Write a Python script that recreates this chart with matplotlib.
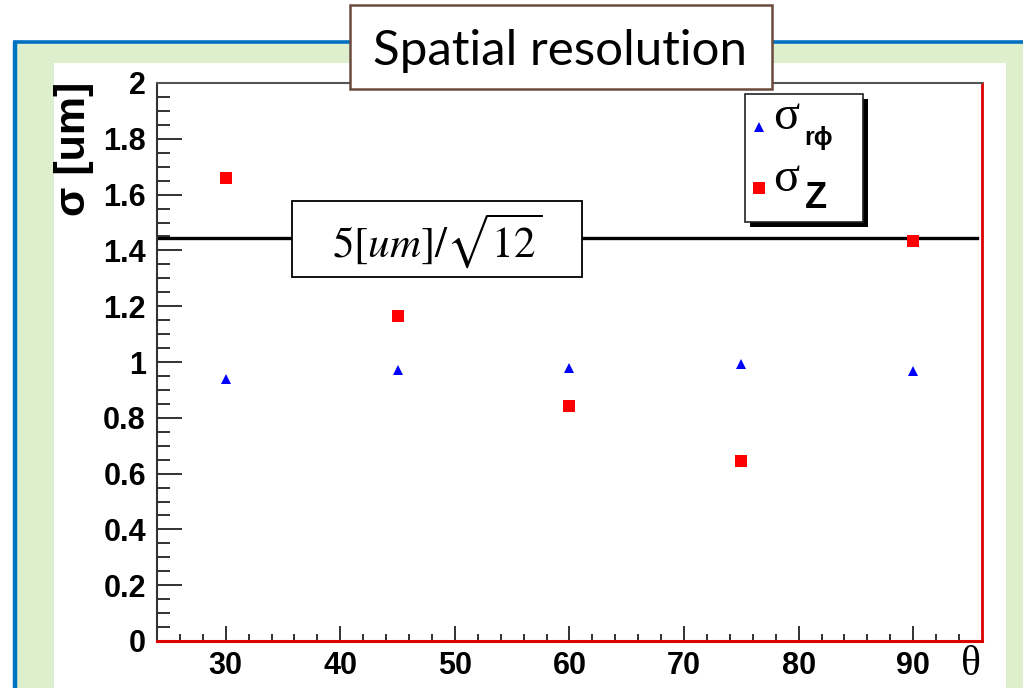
import numpy as np
import matplotlib
matplotlib.use("Agg")
import matplotlib.pyplot as plt
from matplotlib.patches import Rectangle
from matplotlib.lines import Line2D

# ---- data ----
theta = [30, 45, 60, 75, 90]
sigma_rphi = [0.94, 0.97, 0.978, 0.993, 0.968]
sigma_z = [1.658, 1.165, 0.842, 0.645, 1.434]
limit_value = 5 / np.sqrt(12)
x_ticks = [30, 40, 50, 60, 70, 80, 90]
y_ticks = [0, 0.2, 0.4, 0.6, 0.8, 1, 1.2, 1.4, 1.6, 1.8, 2]
y_tick_labels = ["0", "0.2", "0.4", "0.6", "0.8", "1", "1.2", "1.4", "1.6", "1.8", "2"]
title = "Spatial resolution"
y_label = "σ [um]"
x_label = "θ"

W, H = 1023, 688
fig = plt.figure(figsize=(W / 100, H / 100), dpi=100)
fig.patch.set_facecolor("white")


def fx(x):
    return x / W


def fy(y):
    return 1 - y / H


def rect_px(x0, y0, x1, y1, **kw):
    r = Rectangle((fx(x0), fy(y1)), fx(x1) - fx(x0), fy(y0) - fy(y1),
                  transform=fig.transFigure, **kw)
    fig.add_artist(r)
    return r


# slide background
rect_px(15, 42, 1030, 700, facecolor="#DDEFCD", edgecolor="none", zorder=-5)
fig.add_artist(Line2D([fx(14.5), fx(14.5)], [fy(42), fy(700)], transform=fig.transFigure,
                      color="#0070C0", lw=3.2, zorder=-4, solid_capstyle="butt"))
fig.add_artist(Line2D([fx(13), fx(1030)], [fy(42), fy(42)], transform=fig.transFigure,
                      color="#0070C0", lw=2.6, zorder=-4, solid_capstyle="butt"))
rect_px(54, 63, 1006, 700, facecolor="white", edgecolor="none", zorder=-3)

# axes
ax = fig.add_axes([fx(157), fy(641), fx(982) - fx(157), fy(83) - fy(641)])
ax.set_facecolor("none")
ax.set_xlim(24, 96)
ax.set_ylim(0, 2)

ax.axhline(limit_value, xmin=0, xmax=0.994, color="black", lw=2.4, zorder=2)
ax.plot(theta, sigma_rphi, linestyle="none", marker="^", color="#0000FF",
        markersize=7, markeredgewidth=0, zorder=4)
ax.plot(theta, sigma_z, linestyle="none", marker="s", color="#FF0000",
        markersize=8.5, markeredgewidth=0, zorder=4)

ax.set_xticks(x_ticks)
ax.set_xticks(np.arange(26, 96, 2), minor=True)
ax.set_yticks(y_ticks)
ax.set_yticklabels(y_tick_labels)
ax.set_yticks(np.arange(0, 2.001, 0.05), minor=True)
ax.tick_params(axis="both", which="both", direction="in", top=False, right=False,
               width=1.3, color="#222222")
ax.tick_params(axis="x", which="major", length=11, pad=7)
ax.tick_params(axis="x", which="minor", length=5)
ax.tick_params(axis="y", which="major", length=18, pad=8)
ax.tick_params(axis="y", which="minor", length=9)
for lab in ax.get_xticklabels() + ax.get_yticklabels():
    lab.set_fontfamily("Liberation Sans")
    lab.set_fontweight("bold")
    lab.set_fontsize(22)

ax.spines["left"].set_color("#333333")
ax.spines["left"].set_linewidth(1.5)
ax.spines["top"].set_color("#555555")
ax.spines["top"].set_linewidth(1.5)
ax.spines["right"].set_color("#DD0000")
ax.spines["right"].set_linewidth(2)
ax.spines["bottom"].set_color("#DD0000")
ax.spines["bottom"].set_linewidth(2.2)

# axis labels
fig.text(fx(74), fy(82), y_label, rotation=90, ha="center", va="top",
         fontsize=31, fontweight="bold", family="Liberation Sans")
fig.text(fx(971), fy(665), x_label, ha="center", va="center",
         fontsize=30, family="Liberation Serif")

# formula box
rect_px(292, 201, 582, 277, facecolor="white", edgecolor="black", lw=1.3, zorder=6)
fig.text(fx(437), fy(241), r"$5[um]/\sqrt{12}$", ha="center", va="center",
         fontsize=31, math_fontfamily="stix", zorder=7)

# legend box with shadow
rect_px(750, 99, 868, 227, facecolor="black", edgecolor="none", zorder=6)
rect_px(745, 94, 863, 222, facecolor="white", edgecolor="#222222", lw=1.2, zorder=7)
fig.add_artist(Line2D([fx(759)], [fy(127)], transform=fig.transFigure, marker="^",
                      color="#0000FF", markersize=7, markeredgewidth=0, linestyle="none", zorder=8))
fig.add_artist(Line2D([fx(759)], [fy(188)], transform=fig.transFigure, marker="s",
                      color="#FF0000", markersize=8.5, markeredgewidth=0, linestyle="none", zorder=8))
fig.text(fx(773), fy(129), "σ", ha="left", va="baseline", fontsize=35,
         family="Liberation Serif", zorder=8)
fig.text(fx(804), fy(145), "rϕ", ha="left", va="baseline", fontsize=18,
         fontweight="bold", family=["Liberation Sans", "DejaVu Sans"], zorder=8)
fig.text(fx(773), fy(191), "σ", ha="left", va="baseline", fontsize=35,
         family="Liberation Serif", zorder=8)
fig.text(fx(805), fy(208), "Z", ha="left", va="baseline", fontsize=26,
         fontweight="bold", family="Liberation Sans", zorder=8)

# title box
rect_px(350, 5, 772, 89, facecolor="white", edgecolor="#6B4A3E", lw=1.8, zorder=9)
fig.text(fx(560), fy(65), title, ha="center", va="baseline", fontsize=35.5,
         family="Lato", zorder=10)

fig.savefig("out.png", dpi=100)
